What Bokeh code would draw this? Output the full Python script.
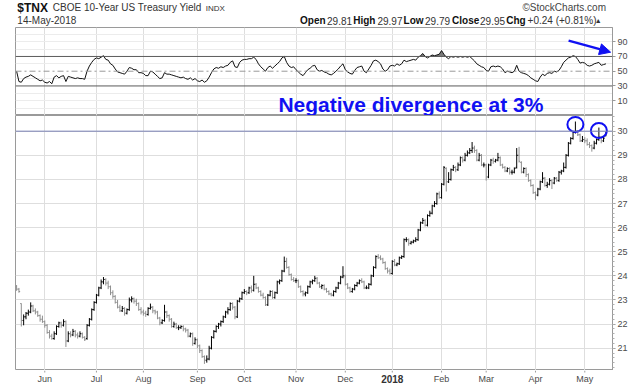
import numpy as np
import pandas as pd
from bokeh.plotting import figure
from bokeh.layouts import column
from bokeh.models import (FixedTicker, Span, Label, Arrow, NormalHead,
                          ColumnDataSource, Range1d)
from bokeh.core.properties import value
from bokeh.embed import file_html
from bokeh.resources import INLINE

# ---------------- data ----------------
START = "2017-05-15"
END = "2018-05-14"
HOLIDAYS = ["2017-05-29", "2017-07-04", "2017-09-04", "2017-11-23", "2017-12-25",
            "2018-01-01", "2018-01-15", "2018-02-19", "2018-03-30"]

OPEN = [
    23.55, 23.45, 22.85, 22.15, 22.3, 22.45, 22.5, 22.75, 22.55, 22.5, 22.35, 22.2,
    22.1, 21.95, 21.65, 21.5, 21.4, 21.6, 21.9, 22.05, 21.95, 22.1, 21.3, 21.6, 21.55, 21.7, 21.55, 21.5, 21.6, 21.45, 21.4, 21.95, 22.2, 22.6,
    22.9, 23.2, 23.5, 23.75, 23.85, 23.7, 23.55, 23.3, 23.15, 22.9, 22.7, 22.55, 22.65, 22.45, 22.6, 23.0, 23.05, 22.95, 22.85, 22.6,
    22.5, 22.45, 22.4, 22.65, 22.7, 22.55, 22.5, 22.25, 22.05, 22.15, 22.5, 22.35, 22.2, 21.9, 22.0, 21.85, 21.85, 21.9, 21.8, 21.75, 21.5, 21.6, 21.2,
    21.35, 21.1, 20.9, 20.65, 20.5, 20.55, 21.0, 21.45, 21.7, 21.9, 22.0, 22.1, 22.3, 22.5, 22.6, 22.85, 22.7, 22.3, 22.95, 23.05,
    23.3, 23.35, 23.3, 23.5, 23.4, 23.65, 23.5, 23.35, 23.2, 23.1, 22.8, 23.2, 23.35, 23.1, 23.3, 23.75, 23.8, 24.2, 24.6, 24.35, 24.05, 23.85,
    23.8, 23.8, 23.55, 23.35, 23.25, 23.3, 23.55, 23.75, 23.8, 23.9, 23.7, 23.55, 23.6, 23.45, 23.35, 23.25, 23.2, 23.35, 23.5, 23.7, 23.95,
    24.0, 23.65, 23.5, 23.35, 23.45, 23.6, 23.7, 23.8, 23.75, 23.5, 23.5, 23.65, 24.0, 24.35, 24.8, 24.75, 24.7, 24.55, 24.3, 24.2,
    24.1, 24.6, 24.45, 24.5, 24.75, 24.8, 25.5, 25.5, 25.35, 25.4, 25.45, 25.5, 25.9, 26.2, 26.3, 26.1, 26.5, 26.6, 26.9, 27.0, 27.4,
    27.25, 27.8, 28.45, 27.9, 28.0, 28.4, 28.5, 28.4, 28.6, 28.9, 28.8, 29.0, 29.1, 29.2, 29.3, 29.2, 28.8, 29.0, 28.6,
    28.6, 28.1, 28.6, 28.8, 28.75, 28.8, 28.9, 28.6, 28.5, 28.35, 28.45, 28.3, 28.3, 28.5, 29.0, 28.7, 28.3, 28.45, 28.2, 27.95, 27.75,
    27.45, 27.35, 27.6, 27.9, 28.05, 27.75, 27.8, 27.95, 27.85, 28.05, 27.95, 28.3, 28.35, 28.5, 29.0, 29.5, 29.7, 29.95, 30.0, 29.85, 29.6,
    29.65, 29.6, 29.45, 29.4, 29.3, 29.5, 29.65, 29.75, 29.6, 29.81,
]
HIGH = [
    23.62, 23.5, 22.86, 22.4, 22.5, 22.6, 22.9, 22.8, 22.65, 22.55, 22.4, 22.35,
    22.15, 22.0, 21.75, 21.6, 21.7, 21.95, 22.1, 22.1, 22.2, 22.15, 21.7, 21.7, 21.8, 21.75, 21.65, 21.7, 21.65, 21.5, 22.0, 22.25, 22.65, 22.95,
    23.25, 23.55, 23.85, 23.95, 23.9, 23.8, 23.6, 23.4, 23.2, 23.0, 22.8, 22.75, 22.7, 22.65, 23.1, 23.15, 23.1, 23.05, 22.9, 22.7,
    22.6, 22.55, 22.7, 22.85, 22.75, 22.6, 22.55, 22.3, 22.2, 22.8, 22.55, 22.4, 22.25, 22.1, 22.05, 21.95, 21.95, 21.95, 21.85, 21.8, 21.65, 21.65, 21.45,
    21.4, 21.15, 20.95, 20.7, 20.7, 21.1, 21.5, 21.75, 21.95, 22.05, 22.15, 22.35, 22.55, 22.7, 22.9, 22.9, 22.75, 23.0, 23.1, 23.35,
    23.45, 23.4, 23.55, 23.6, 24.0, 23.7, 23.55, 23.4, 23.3, 23.15, 23.25, 23.4, 23.4, 23.35, 23.8, 23.85, 24.25, 24.8, 24.75, 24.4, 24.1, 23.95,
    23.9, 23.85, 23.6, 23.4, 23.35, 23.6, 23.8, 23.85, 24.0, 23.95, 23.75, 23.65, 23.65, 23.5, 23.4, 23.3, 23.4, 23.55, 23.75, 24.0, 24.4,
    24.05, 23.7, 23.55, 23.5, 23.65, 23.75, 23.85, 23.9, 23.8, 23.6, 23.7, 24.05, 24.4, 24.85, 24.9, 24.85, 24.75, 24.6, 24.35, 24.3,
    24.65, 24.7, 24.55, 24.8, 24.85, 25.55, 25.6, 25.55, 25.45, 25.5, 25.6, 25.95, 26.25, 26.4, 26.35, 26.55, 26.7, 26.95, 27.1, 27.45, 27.5,
    27.85, 28.55, 28.5, 28.3, 28.45, 28.6, 28.55, 28.7, 28.95, 28.95, 29.1, 29.2, 29.3, 29.55, 29.4, 29.25, 29.1, 29.05, 28.7,
    28.65, 28.65, 28.85, 28.9, 28.85, 29.1, 28.95, 28.65, 28.55, 28.5, 28.5, 28.4, 28.5, 29.3, 29.35, 28.75, 28.5, 28.5, 28.25, 28.0, 27.8,
    27.5, 27.65, 27.95, 28.3, 28.1, 27.9, 28.05, 28.0, 28.1, 28.1, 28.35, 28.4, 28.7, 29.05, 29.55, 29.75, 30.0, 30.4, 30.05, 29.9, 29.8,
    29.75, 29.7, 29.55, 29.45, 29.6, 29.7, 30.15, 29.8, 29.8, 29.97,
]
LOW = [
    23.38, 23.3, 21.9, 21.95, 22.2, 22.35, 22.45, 22.5, 22.4, 22.3, 22.1, 22.05,
    21.85, 21.6, 21.4, 21.35, 21.35, 21.55, 21.85, 21.85, 21.9, 21.05, 21.25, 21.45, 21.5, 21.45, 21.4, 21.45, 21.4, 21.3, 21.35, 21.9, 22.15, 22.55,
    22.85, 23.15, 23.45, 23.65, 23.6, 23.45, 23.2, 23.05, 22.85, 22.65, 22.5, 22.5, 22.35, 22.4, 22.55, 22.9, 22.85, 22.75, 22.55, 22.4,
    22.35, 22.3, 22.35, 22.6, 22.45, 22.4, 22.2, 21.95, 22.0, 22.1, 22.25, 22.1, 21.85, 21.85, 21.8, 21.75, 21.8, 21.7, 21.65, 21.45, 21.45, 21.1, 21.15,
    21.0, 20.8, 20.6, 20.35, 20.4, 20.5, 20.95, 21.4, 21.65, 21.8, 21.9, 22.05, 22.25, 22.4, 22.55, 22.6, 22.2, 22.25, 22.9, 23.0,
    23.25, 23.2, 23.25, 23.3, 23.35, 23.45, 23.3, 23.15, 23.05, 22.75, 22.75, 23.15, 23.05, 23.05, 23.25, 23.65, 23.75, 24.15, 24.3, 24.0, 23.8, 23.75,
    23.7, 23.5, 23.3, 23.15, 23.15, 23.25, 23.5, 23.65, 23.75, 23.65, 23.5, 23.45, 23.4, 23.3, 23.2, 23.15, 23.15, 23.3, 23.45, 23.65, 23.9,
    23.6, 23.45, 23.3, 23.3, 23.4, 23.55, 23.65, 23.7, 23.45, 23.45, 23.45, 23.6, 23.95, 24.3, 24.7, 24.65, 24.5, 24.25, 24.1, 24.05,
    24.05, 24.4, 24.4, 24.45, 24.7, 24.75, 25.4, 25.25, 25.3, 25.35, 25.4, 25.45, 25.85, 26.15, 26.05, 26.05, 26.45, 26.55, 26.85, 26.95, 27.2,
    27.2, 27.75, 27.5, 27.85, 27.95, 28.35, 28.3, 28.35, 28.55, 28.7, 28.75, 28.95, 29.05, 29.1, 29.1, 28.75, 28.75, 28.55, 28.5,
    27.95, 28.05, 28.55, 28.65, 28.7, 28.75, 28.55, 28.45, 28.3, 28.3, 28.2, 28.2, 28.25, 28.45, 28.7, 28.25, 28.25, 28.1, 27.9, 27.7, 27.4,
    27.15, 27.3, 27.55, 27.85, 27.7, 27.65, 27.75, 27.6, 27.8, 27.9, 27.9, 28.2, 28.3, 28.45, 28.95, 29.45, 29.65, 29.9, 29.8, 29.55, 29.55,
    29.5, 29.4, 29.3, 29.15, 29.25, 29.45, 29.6, 29.5, 29.55, 29.79,
]
CLOSE = [
    23.45, 23.35, 22.15, 22.3, 22.45, 22.5, 22.75, 22.55, 22.5, 22.35, 22.2, 22.1,
    21.95, 21.65, 21.5, 21.4, 21.6, 21.9, 22.05, 21.95, 22.1, 21.3, 21.6, 21.55, 21.7, 21.55, 21.5, 21.6, 21.45, 21.35, 21.95, 22.2, 22.6, 22.9,
    23.2, 23.5, 23.75, 23.85, 23.7, 23.55, 23.3, 23.15, 22.9, 22.7, 22.55, 22.65, 22.45, 22.6, 23.0, 23.05, 22.95, 22.85, 22.6, 22.5,
    22.45, 22.4, 22.65, 22.7, 22.55, 22.5, 22.25, 22.05, 22.15, 22.5, 22.35, 22.2, 21.9, 22.0, 21.85, 21.85, 21.9, 21.8, 21.75, 21.5, 21.6, 21.2, 21.35,
    21.1, 20.9, 20.65, 20.5, 20.55, 21.0, 21.45, 21.7, 21.9, 22.0, 22.1, 22.3, 22.5, 22.6, 22.85, 22.7, 22.3, 22.95, 23.05, 23.3,
    23.35, 23.3, 23.5, 23.4, 23.65, 23.5, 23.35, 23.2, 23.1, 22.8, 23.2, 23.35, 23.1, 23.3, 23.75, 23.8, 24.2, 24.6, 24.35, 24.05, 23.85, 23.8,
    23.8, 23.55, 23.35, 23.25, 23.3, 23.55, 23.75, 23.8, 23.9, 23.7, 23.55, 23.6, 23.45, 23.35, 23.25, 23.2, 23.35, 23.5, 23.7, 23.95, 24.0,
    23.65, 23.5, 23.35, 23.45, 23.6, 23.7, 23.8, 23.75, 23.5, 23.5, 23.65, 24.0, 24.35, 24.8, 24.75, 24.7, 24.55, 24.3, 24.2, 24.1,
    24.6, 24.45, 24.5, 24.75, 24.8, 25.5, 25.5, 25.35, 25.4, 25.45, 25.5, 25.9, 26.2, 26.3, 26.1, 26.5, 26.6, 26.9, 27.0, 27.4, 27.25,
    27.8, 28.5, 27.9, 28.0, 28.4, 28.5, 28.4, 28.6, 28.9, 28.8, 29.0, 29.1, 29.2, 29.3, 29.2, 28.8, 29.0, 28.6, 28.6,
    28.1, 28.6, 28.8, 28.75, 28.8, 28.9, 28.6, 28.5, 28.35, 28.45, 28.3, 28.3, 28.45, 29.0, 28.75, 28.3, 28.45, 28.2, 27.95, 27.75, 27.45,
    27.35, 27.6, 27.9, 28.05, 27.75, 27.8, 27.95, 27.85, 28.05, 27.95, 28.3, 28.35, 28.5, 29.0, 29.5, 29.7, 29.95, 30.0, 29.85, 29.6, 29.65,
    29.6, 29.45, 29.4, 29.3, 29.5, 29.65, 29.75, 29.6, 29.71, 29.95,
]
RSI = [
    50, 36, 35, 40, 42, 43, 45, 43, 41, 39, 37, 38,
    35, 34, 36, 33, 42, 44, 41, 43, 44, 36, 43, 42, 41, 40, 41, 40, 40, 39, 50, 57, 62, 66,
    68, 67, 69, 71, 66, 65, 60, 58, 53, 49, 48, 47, 46, 50, 55, 54, 52, 52, 48, 48,
    47, 44, 44, 50, 49, 46, 43, 40, 41, 48, 46, 46, 45, 44, 43, 42, 41, 42, 40, 39, 41, 38, 40,
    37, 36, 38, 35, 37, 42, 48, 53, 55, 54, 56, 55, 57, 58, 62, 64, 56, 55, 62, 65,
    66, 66, 67, 67, 69, 66, 60, 56, 53, 50, 55, 57, 54, 57, 60, 63, 68, 70, 62, 57, 55, 56,
    52, 49, 46, 44, 48, 52, 54, 57, 58, 52, 50, 51, 49, 48, 46, 45, 47, 50, 53, 57, 60,
    52, 49, 47, 46, 51, 55, 56, 57, 50, 48, 53, 58, 64, 65, 63, 60, 53, 50, 52, 57,
    58, 57, 60, 58, 60, 65, 63, 64, 65, 66, 65, 69, 71, 74, 70, 68, 70, 72, 71, 72, 73,
    78, 73, 69, 67, 70, 69, 70, 69, 70, 69, 70, 69, 70, 67, 64, 60, 58, 56, 55,
    51, 50, 56, 57, 56, 57, 56, 53, 48, 50, 49, 48, 50, 58, 50, 48, 47, 46, 44, 41, 39,
    37, 36, 42, 46, 44, 47, 48, 47, 50, 49, 51, 56, 62, 65, 68, 69, 71, 70, 66, 61, 62,
    61, 58, 57, 58, 60, 61, 62, 58, 59, 60,
]
RSI_TICKS = [10, 30, 50, 70, 90]
RSI_GRID = [0, 10, 20, 40, 60, 80, 90, 100]
RSI_LEVELS = [30, 70]
PRICE_TICKS = [21, 22, 23, 24, 25, 26, 27, 28, 29, 30]
RESISTANCE = 30

TITLE_SYM = "$TNX"
TITLE_NAME = "CBOE 10-Year US Treasury Yield"
TITLE_EXCH = "INDX"
DATE_TXT = "14-May-2018"
NOTE = "Negative divergence at 3%"

# ---------------- derived ----------------
dates = pd.bdate_range(START, END)
dates = dates[~dates.isin(pd.to_datetime(HOLIDAYS))]
n = len(CLOSE)
x = np.arange(n)
month_idx, month_lbl = [], []
for i in range(1, len(dates)):
    if dates[i].month != dates[i - 1].month:
        month_idx.append(i)
        month_lbl.append(str(dates[i].year) if dates[i].month == 1 else dates[i].strftime("%b"))

close = np.array(CLOSE)
prev = np.concatenate([[OPEN[0]], close[:-1]])
colors = np.where(close >= prev, "#000000", "#8f8f8f")

FONT = "Liberation Sans"
BLUE = "#1010f2"
W = 640
HDR_H = 27
RSI_H = 88
PRICE_H = 255
AX_H = 15
LEFT = 15
RIGHT = 28
xr = Range1d(-0.47, 253.8)

def style_common(p):
    p.outline_line_color = "#9a9a9a"
    p.background_fill_color = "white"
    p.border_fill_color = "white"
    p.xgrid.ticker = FixedTicker(ticks=month_idx)
    p.xgrid.grid_line_color = "#dedede"

def style_yaxis(ax, ticks, minor):
    ax.ticker = FixedTicker(ticks=ticks, minor_ticks=minor)
    ax.major_label_text_font = FONT
    ax.major_label_text_font_size = "9px"
    ax.major_label_text_color = "#4a4a4a"
    ax.axis_line_color = "#9a9a9a"
    ax.major_tick_line_color = "#9a9a9a"
    ax.minor_tick_line_color = "#b0b0b0"
    ax.major_tick_in = 0
    ax.major_tick_out = 3
    ax.minor_tick_in = 0
    ax.minor_tick_out = 2
    ax.major_label_standoff = 2

# ---------------- header ----------------
hdr = figure(width=W, height=HDR_H, x_range=Range1d(0, W), y_range=Range1d(HDR_H, 0),
             toolbar_location=None, output_backend="svg", min_border=0,
             x_axis_location=None, y_axis_location=None)
hdr.outline_line_color = None
hdr.grid.visible = False

def htxt(xp, yp, s, size, bold=False, align="left", color="#222222"):
    hdr.add_layout(Label(x=xp, y=yp, text=s, text_font=FONT, text_font_size=f"{size}px",
                         text_font_style="bold" if bold else "normal", text_align=align,
                         text_baseline="middle", text_color=color))

htxt(2, 7, TITLE_SYM, 12, bold=True, color="#111111")
htxt(40, 7, TITLE_NAME, 10, color="#333333")
htxt(204, 7.5, TITLE_EXCH, 8, color="#333333")
htxt(633, 7, "\u00a9StockCharts.com", 10, align="right", color="#444444")
htxt(2, 20, DATE_TXT, 10, color="#333333")
row2 = [("Open", True, 305), ("%.2f" % OPEN[-1], False, 334),
        ("High", True, 362), ("%.2f" % HIGH[-1], False, 388),
        ("Low", True, 416), ("%.2f" % LOW[-1], False, 439),
        ("Close", True, 468), ("%.2f" % CLOSE[-1], False, 498),
        ("Chg", True, 526)]
for s, b, xp in row2:
    htxt(xp, 20, s, 10, bold=b, color="#111111" if b else "#333333")
chg = CLOSE[-1] - CLOSE[-2]
htxt(549, 20, "+%.2f (+%.2f%%)" % (chg, 100 * chg / CLOSE[-2]), 10, color="#333333")
htxt(621, 20, "\u25b2", 7, color="#333333")

# ---------------- RSI panel ----------------
rsi = figure(width=W, height=RSI_H, x_range=xr, y_range=Range1d(-10.1, 109.3),
             toolbar_location=None, output_backend="svg", x_axis_location=None,
             y_axis_location="right", min_border=0, min_border_left=LEFT,
             min_border_right=RIGHT)
style_common(rsi)
rsi.ygrid.ticker = FixedTicker(ticks=RSI_GRID)
rsi.ygrid.grid_line_color = "#ececec"
style_yaxis(rsi.yaxis[0], RSI_TICKS, [])
for lv in RSI_LEVELS:
    rsi.add_layout(Span(location=lv, dimension="width", line_color="#5a5a5a", line_width=1))
rsi.add_layout(Span(location=50, dimension="width", line_color="#9a9a9a", line_width=1,
                    line_dash="6 3 2 3"))
rsi_arr = np.array(RSI, dtype=float)
rsi.varea(x=x, y1=np.full(n, 70.0), y2=np.maximum(rsi_arr, 70.0), fill_color="#7a7a7a")
rsi.line(x, rsi_arr, line_color="#111111", line_width=1)
rsi.add_layout(Arrow(end=NormalHead(size=11, fill_color=BLUE, line_color=BLUE),
                     x_start=235.1, y_start=91.6, x_end=253.0, y_end=75.8,
                     line_color=BLUE, line_width=2.4))
rsi.add_layout(Label(x=111.5, y=5.5, text=NOTE,
                     text_font=FONT, text_font_size="21px", text_font_style="bold",
                     text_color=BLUE, text_baseline="alphabetic"))

# ---------------- price panel ----------------
pp = figure(width=W, height=PRICE_H, x_range=xr, y_range=Range1d(20.075, 30.65),
            toolbar_location=None, output_backend="svg", y_axis_location="right",
            x_axis_location=None, min_border=0, min_border_left=LEFT,
            min_border_right=RIGHT)
style_common(pp)
pp.ygrid.ticker = FixedTicker(ticks=PRICE_TICKS)
pp.ygrid.grid_line_color = "#dedede"
style_yaxis(pp.yaxis[0], PRICE_TICKS, list(np.round(np.arange(20.2, 30.61, 0.2), 2)))

pp.add_layout(Span(location=RESISTANCE, dimension="width", line_color="#7880b4", line_width=1))
src = ColumnDataSource(dict(x=x, o=OPEN, h=HIGH, l=LOW, c=CLOSE, col=colors,
                            xl=x - 0.5, xr=x + 0.5))
pp.segment(x0="x", y0="l", x1="x", y1="h", source=src, line_color="col", line_width=1)
pp.segment(x0="xl", y0="o", x1="x", y1="o", source=src, line_color="col", line_width=1)
pp.segment(x0="x", y0="c", x1="xr", y1="c", source=src, line_color="col", line_width=1)

high = np.array(HIGH)
apr_peak = 221 + int(np.argmax(high[221:242]))
may_peak = 242 + int(np.argmax(high[242:]))
pk = [apr_peak, may_peak]
pp.ellipse(x=pk, y=[high[k] - 0.12 for k in pk], width=16, height=15,
           width_units="screen", height_units="screen", fill_alpha=0,
           line_color=BLUE, line_width=2)

# ---------------- date axis strip ----------------
ax = figure(width=W, height=AX_H, x_range=xr, y_range=Range1d(AX_H, 0),
            toolbar_location=None, output_backend="svg", x_axis_location=None,
            y_axis_location=None, min_border=0, min_border_left=LEFT,
            min_border_right=RIGHT)
ax.outline_line_color = None
ax.grid.visible = False
ax.border_fill_color = "white"
ax.segment(x0=month_idx, y0=[0] * len(month_idx), x1=month_idx, y1=[2] * len(month_idx),
           line_color="#9a9a9a", line_width=1)
reg = [(i, l) for i, l in zip(month_idx, month_lbl) if not l.isdigit()]
yr = [(i, l) for i, l in zip(month_idx, month_lbl) if l.isdigit()]
ax.text(x=[i for i, _ in reg], y=[8] * len(reg), text=[l for _, l in reg],
        text_font=value(FONT), text_font_size="9px", text_color="#4a4a4a",
        text_align="center", text_baseline="middle")
ax.text(x=[i for i, _ in yr], y=[8] * len(yr), text=[l for _, l in yr],
        text_font=value(FONT), text_font_size="10px", text_font_style="bold",
        text_color="#333333", text_align="center", text_baseline="middle")

layout = column(hdr, rsi, pp, ax, spacing=0)
open("out.html", "w").write(file_html(layout, INLINE, title="TNX"))
